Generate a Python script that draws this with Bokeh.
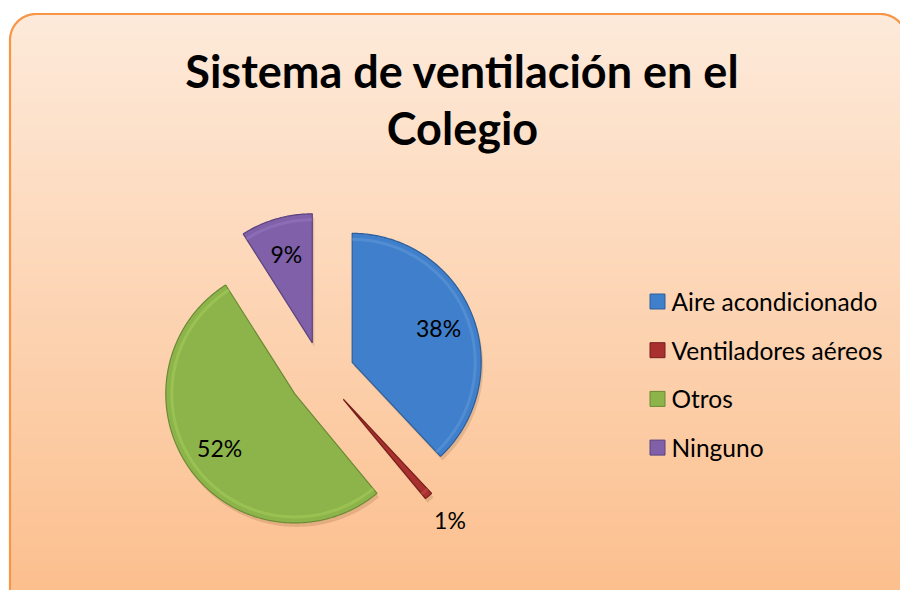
import numpy as np
from bokeh.plotting import figure
from bokeh.models import Range1d
from bokeh.core.properties import value
from bokeh.embed import file_html
from bokeh.resources import INLINE

# ---- data ----
categories = ["Aire acondicionado", "Ventiladores aéreos", "Otros", "Ninguno"]
percent = [38, 1, 52, 9]
pct_labels = ["38%", "1%", "52%", "9%"]
title_lines = ["Sistema de ventilación en el", "Colegio"]

# ---- style ----
fill_colors = ["#3f7fcb", "#a8302e", "#8db44b", "#7f60a9"]
edge_colors = ["#2d5e98", "#7a1e1c", "#6a8a33", "#5c437f"]
light_colors = ["#6a9fdc", "#c9504c", "#a8d25e", "#9c7fc6"]

W, H = 900, 590
p = figure(width=W, height=H, x_range=Range1d(0, W), y_range=Range1d(H, 0),
           output_backend="svg", toolbar_location=None, min_border=0,
           x_axis_location=None, y_axis_location=None)
p.grid.visible = False
p.outline_line_color = None
p.background_fill_color = "white"
p.border_fill_color = "white"

# ---- chart area: rounded rectangle with vertical gradient ----
L, T, Rr, B, rad = 9.5, 13.5, 906, 606, 26
top_c = np.array([0xfd, 0xea, 0xda])
bot_c = np.array([0xfc, 0xbe, 0x8c])
ys = np.arange(T, H + 2, 2.0)
lefts, rights, tops, bots, cols = [], [], [], [], []
for yv in ys:
    ym = yv + 1
    if ym < T + rad:
        dy = T + rad - ym
        off = rad - np.sqrt(max(rad ** 2 - dy ** 2, 0))
    else:
        off = 0
    frac = (ym - T) / (B - T)
    c = top_c + (bot_c - top_c) * frac
    lefts.append(L + off)
    rights.append(Rr - off)
    tops.append(yv)
    bots.append(yv + 2.2)
    cols.append("#%02x%02x%02x" % tuple(int(round(v)) for v in c))
p.quad(left=lefts, right=rights, top=tops, bottom=bots, fill_color=cols, line_color=None)

# border path
th = np.linspace(np.pi, 1.5 * np.pi, 30)
th2 = np.linspace(1.5 * np.pi, 2 * np.pi, 30)
path_x = [L] + [L + rad + rad * np.cos(t) for t in th] + [Rr - rad + rad * np.cos(t) for t in th2] + [Rr]
path_y = [B] + [T + rad + rad * np.sin(t) for t in th] + [T + rad + rad * np.sin(t) for t in th2] + [B]
p.line(path_x, path_y, line_color="#f79646", line_width=2.2)

# ---- title ----
p.text(x=[462, 462], y=[70, 127], text=title_lines, text_font=value("Lato"),
       text_font_style="bold", text_font_size="45px", text_align="center",
       text_baseline="middle", text_color="black")

# ---- exploded pie ----
cx, cy, R, explode = 321, 374, 129, 33
fr = np.array(percent, dtype=float) / sum(percent)
ends = np.cumsum(fr) * 2 * np.pi
starts = ends - fr * 2 * np.pi

shadow_xs, shadow_ys, xs_list, ys_list, hx, hy = [], [], [], [], [], []
for a0, a1 in zip(starts, ends):
    mid = (a0 + a1) / 2
    ax = cx + explode * np.sin(mid)
    ay = cy - explode * np.cos(mid)
    t = np.linspace(a0, a1, max(int((a1 - a0) * 80), 4))
    px = [ax] + list(ax + R * np.sin(t))
    py = [ay] + list(ay - R * np.cos(t))
    xs_list.append(px)
    ys_list.append(py)
    shadow_xs.append([v + 2 for v in px])
    shadow_ys.append([v + 4 for v in py])
    ri = R - 6
    hx.append(list(ax + ri * np.sin(t)))
    hy.append(list(ay - ri * np.cos(t)))

p.patches(shadow_xs, shadow_ys, fill_color="#7a4a20", fill_alpha=0.18, line_color=None)
p.patches(xs_list, ys_list, fill_color=fill_colors, line_color=edge_colors, line_width=1.2)
p.multi_line(hx, hy, line_color=light_colors, line_width=3, line_alpha=0.45)

# percentage labels
lx, ly = [], []
for a0, a1, v in zip(starts, ends, percent):
    mid = (a0 + a1) / 2
    ax = cx + explode * np.sin(mid)
    ay = cy - explode * np.cos(mid)
    rf = 0.72 if v >= 5 else 1.25
    lx.append(ax + rf * R * np.sin(mid))
    ly.append(ay - rf * R * np.cos(mid))
p.text(x=lx, y=ly, text=pct_labels, text_font=value("Lato"), text_font_size="23px",
       text_align="center", text_baseline="middle", text_color="black")

# ---- legend ----
leg_x, leg_y0, leg_dy, sq = 657, 301, 48.7, 15
leg_ys = [leg_y0 + i * leg_dy for i in range(len(categories))]
p.rect(x=[leg_x] * len(categories), y=leg_ys, width=sq, height=sq,
       fill_color=fill_colors, line_color=edge_colors, line_width=1)
p.text(x=[leg_x + 14] * len(categories), y=leg_ys, text=categories, text_font=value("Lato"),
       text_font_size="24.5px", text_align="left", text_baseline="middle", text_color="black")

open("out.html", "w").write(file_html(p, INLINE))
